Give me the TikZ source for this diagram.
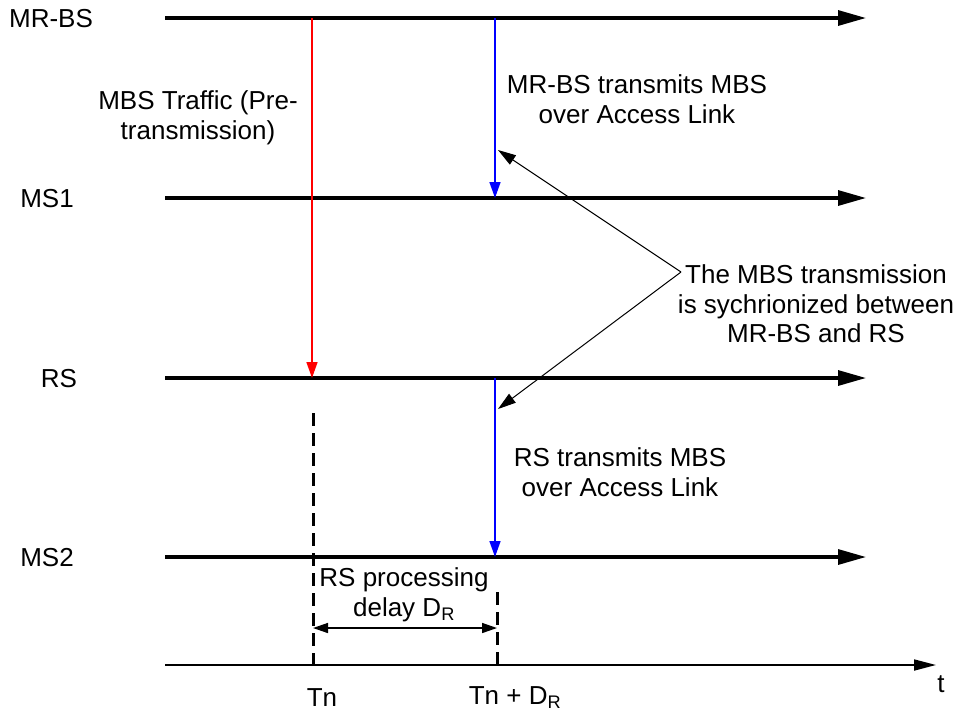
\documentclass[tikz,border=0pt]{standalone}
\usepackage{fontspec}
\setmainfont{Liberation Sans}
\usetikzlibrary{arrows.meta}
\begin{document}
\begin{tikzpicture}[x=1pt,y=-1pt,
  every node/.style={font=\fontsize{26}{29.5}\selectfont, inner sep=0pt, align=center},
  timeline/.style={line width=3.2pt, -{Triangle[length=28pt,width=15pt]}},
  axisline/.style={line width=1.8pt, -{Triangle[length=22pt,width=11pt]}},
  redarr/.style={draw=red, line width=1.5pt, -{Triangle[length=16pt,width=11pt]}},
  bluearr/.style={draw=blue, line width=1.5pt, -{Triangle[length=16pt,width=11pt]}},
  pointer/.style={line width=1pt, -{Triangle[length=18pt,width=11pt]}},
  dashline/.style={line width=3pt, dash pattern=on 13pt off 7pt},
  dimarr/.style={line width=1.5pt, {Triangle[length=15pt,width=10pt]}-{Triangle[length=15pt,width=10pt]}}
]
\useasboundingbox (0,0) rectangle (961,713);
% timelines
\coordinate (mrbsL) at (165,18);  \coordinate (mrbsR) at (866,18);
\coordinate (ms1L) at (165,198);  \coordinate (ms1R) at (866,198);
\coordinate (rsL) at (165,378);   \coordinate (rsR) at (866,378);
\coordinate (ms2L) at (165,557);  \coordinate (ms2R) at (866,557);
\coordinate (axL) at (165,665);   \coordinate (axR) at (936,665);
\draw[timeline] (mrbsL) -- (mrbsR);
\draw[timeline] (ms1L) -- (ms1R);
\draw[timeline] (rsL) -- (rsR);
\draw[timeline] (ms2L) -- (ms2R);
\draw[axisline] (axL) -- (axR);
% labels
\node (lmrbs) at (51,19) {MR-BS};
\node (lms1) at (47,199) {MS1};
\node (lrs) at (59,379) {RS};
\node (lms2) at (47,558) {MS2};
\node (lt) at (941,684) {t};
% red arrow
\coordinate (redtop) at (312,18);
\coordinate (redbot) at (312,378);
\draw[redarr] (redtop) -- (redbot);
% blue arrows
\coordinate (b1top) at (495,18);
\coordinate (b1bot) at (495,198);
\coordinate (b2top) at (495,378);
\coordinate (b2bot) at (495,557);
\draw[bluearr] (b1top) -- (b1bot);
\draw[bluearr] (b2top) -- (b2bot);
% texts
\node (traffic) at (198,118) {MBS Traffic (Pre-\\transmission)};
\node (mrbstx) at (637,99) {MR-BS transmits MBS\\over Access Link};
\node (rstx) at (620,472) {RS transmits MBS\\over Access Link};
\node (sync) at (816,304) {The MBS transmission\\is sychrionized between\\MR-BS and RS};
% pointer lines
\coordinate (vtip) at (681,272);
\coordinate (p1) at (498,150);
\coordinate (p2) at (498,409);
\draw[pointer] (vtip) -- (p1);
\draw[pointer] (vtip) -- (p2);
% dashed lines
\coordinate (d1top) at (313,413);
\coordinate (d1bot) at (313,667);
\coordinate (d2top) at (497,592);
\coordinate (d2bot) at (497,667);
\draw[dashline] (d1top) -- (d1bot);
\draw[dashline] (d2top) -- (d2bot);
% delay arrow
\coordinate (dl) at (313,628);
\coordinate (dr) at (497,628);
\draw[dimarr] (dl) -- (dr);
\node (delay) at (404,595) {RS processing\\delay D\textsubscript{R}};
% time labels
\node (tn) at (322,698) {Tn};
\node (tnd) at (515,698) {Tn + D\textsubscript{R}};
\end{tikzpicture}
\end{document}
